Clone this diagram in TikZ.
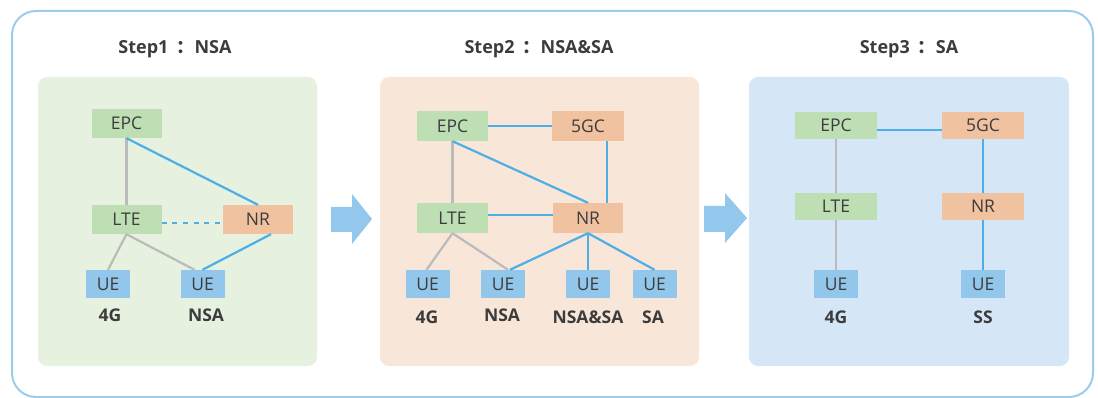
\documentclass[tikz,border=0pt]{standalone}
\usepackage{fontspec}
\setmainfont{Open Sans}
\newfontfamily\cjk{Noto Sans CJK SC}
\definecolor{frameblue}{HTML}{9CCBEC}
\definecolor{greenbg}{HTML}{E7F1E0}
\definecolor{orangebg}{HTML}{F8E6D8}
\definecolor{bluebg}{HTML}{D5E7F6}
\definecolor{coregreen}{HTML}{BEDFB4}
\definecolor{nrorange}{HTML}{F0C2A0}
\definecolor{ueblue}{HTML}{92C6EB}
\definecolor{linkblue}{HTML}{4DAFE6}
\definecolor{linkgray}{HTML}{BBBBBB}
\definecolor{arrowblue}{HTML}{93C7EC}
\definecolor{darkgray}{HTML}{3C3C3C}

\begin{document}
\begin{tikzpicture}[x=1pt,y=-1pt,
  netbox/.style={inner sep=0pt,minimum width=70pt,minimum height=29pt,
    text=darkgray,font=\fontsize{17.5}{17.5}\selectfont},
  corebox/.style={netbox,fill=coregreen},
  newbox/.style={netbox,fill=nrorange},
  uebox/.style={netbox,fill=ueblue,minimum width=44pt,minimum height=28pt},
  tag/.style={text=darkgray,font=\fontsize{17.5}{17.5}\selectfont\bfseries},
  heading/.style={text=darkgray,font=\fontsize{18}{18}\selectfont\bfseries},
  panel/.style={rounded corners=9pt},
  oldlink/.style={linkgray,line width=2.2pt},
  newlink/.style={linkblue,line width=2.2pt},
  bigarrow/.style={fill=arrowblue}]
  \useasboundingbox (0,0) rectangle (1098,398);
  \clip (0,0) rectangle (1098,398);

  % frame and panels
  \draw[frameblue,line width=2pt,rounded corners=24pt] (12,11) rectangle (1093,397);
  \fill[panel,greenbg] (38,77) rectangle (317,366);
  \fill[panel,orangebg] (380,77) rectangle (699,366);
  \fill[panel,bluebg] (749,77) rectangle (1069,366);

  \node[heading] (t1) at (175,49) {Step1\hspace{0.45em}{\cjk ：}NSA};
  \node[heading] (t2) at (539,49) {Step2\hspace{0.45em}{\cjk ：}NSA\&SA};
  \node[heading] (t3) at (909,49) {Step3\hspace{0.45em}{\cjk ：}SA};

  % arrows between steps
  \fill[bigarrow] (331,207) -- (352,207) -- (352,194) -- (372,219)
    -- (352,244) -- (352,232) -- (331,232) -- cycle;
  \fill[bigarrow] (704,206) -- (725,206) -- (725,193) -- (747,218)
    -- (725,243) -- (725,232) -- (704,232) -- cycle;

  % step 1
  \node[corebox] (epcA) at (126.5,123.5) {EPC};
  \node[corebox] (lteA) at (126.5,219.5) {LTE};
  \node[newbox] (nrA) at (258,219.5) {NR};
  \node[uebox] (ueA1) at (108,284) {UE};
  \node[uebox] (ueA2) at (202.5,284) {UE};
  \node[tag] at (110,315) {4G};
  \node[tag] at (206,315) {NSA};
  \draw[oldlink] (epcA) -- (lteA);
  \draw[newlink] (epcA.south) -- (nrA.north);
  \draw[newlink,dash pattern=on 5pt off 5.6pt] ([yshift=-3.5pt]lteA.east) -- ([yshift=-3.5pt]nrA.west);
  \draw[oldlink] (lteA.south) -- (ueA1.north);
  \draw[oldlink] (lteA.south) -- ([xshift=-8pt]ueA2.north);
  \draw[newlink] ([xshift=13pt]nrA.south) -- (ueA2.north);

  % step 2
  \node[corebox,minimum width=71pt,minimum height=30pt] (epcB) at (452.5,126) {EPC};
  \node[newbox,minimum width=72pt,minimum height=30pt] (gcB) at (588,126) {5GC};
  \node[corebox,minimum width=71pt,minimum height=30pt] (lteB) at (452.5,218) {LTE};
  \node[newbox,minimum width=70pt,minimum height=30pt] (nrB) at (588,218) {NR};
  \node[uebox] (ueB1) at (427.5,284) {UE};
  \node[uebox] (ueB2) at (503,284) {UE};
  \node[uebox] (ueB3) at (588,284) {UE};
  \node[uebox] (ueB4) at (654.5,284) {UE};
  \node[tag] at (427,317) {4G};
  \node[tag] at (502,315) {NSA};
  \node[tag] at (588,317) {NSA\&SA};
  \node[tag] at (653,317) {SA};
  \draw[newlink] (epcB) -- (gcB);
  \draw[oldlink] (epcB) -- (lteB);
  \draw[newlink] (epcB.south) -- (nrB.north);
  \draw[newlink] ([xshift=19pt]gcB.south) -- ([xshift=19pt]nrB.north);
  \draw[newlink] ([yshift=3pt]lteB.east) -- ([yshift=3pt]nrB.west);
  \draw[oldlink] (lteB.south) -- ([xshift=-1pt]ueB1.north);
  \draw[oldlink] (lteB.south) -- ([xshift=5pt]ueB2.north);
  \draw[newlink] (nrB.south) -- ([xshift=7pt]ueB2.north);
  \draw[newlink] (nrB.south) -- (ueB3.north);
  \draw[newlink] (nrB.south) -- (ueB4.north);

  % step 3
  \node[corebox,minimum width=82pt,minimum height=27pt] (epcC) at (836,125.5) {EPC};
  \node[newbox,minimum width=82pt,minimum height=27pt] (gcC) at (983,125.5) {5GC};
  \node[corebox,minimum width=82pt,minimum height=27pt] (lteC) at (836,206.5) {LTE};
  \node[newbox,minimum width=82pt,minimum height=27pt] (nrC) at (983,206.5) {NR};
  \node[uebox] (ueC1) at (836,284) {UE};
  \node[uebox] (ueC2) at (983,284) {UE};
  \node[tag] at (836,317) {4G};
  \node[tag] at (983,317) {SS};
  \draw[newlink] ([yshift=-4.5pt]epcC.east) -- ([yshift=-4.5pt]gcC.west);
  \draw[oldlink] (epcC) -- (lteC);
  \draw[oldlink] (lteC) -- (ueC1);
  \draw[newlink] (gcC) -- (nrC);
  \draw[newlink] (nrC) -- (ueC2);
\end{tikzpicture}
\end{document}
